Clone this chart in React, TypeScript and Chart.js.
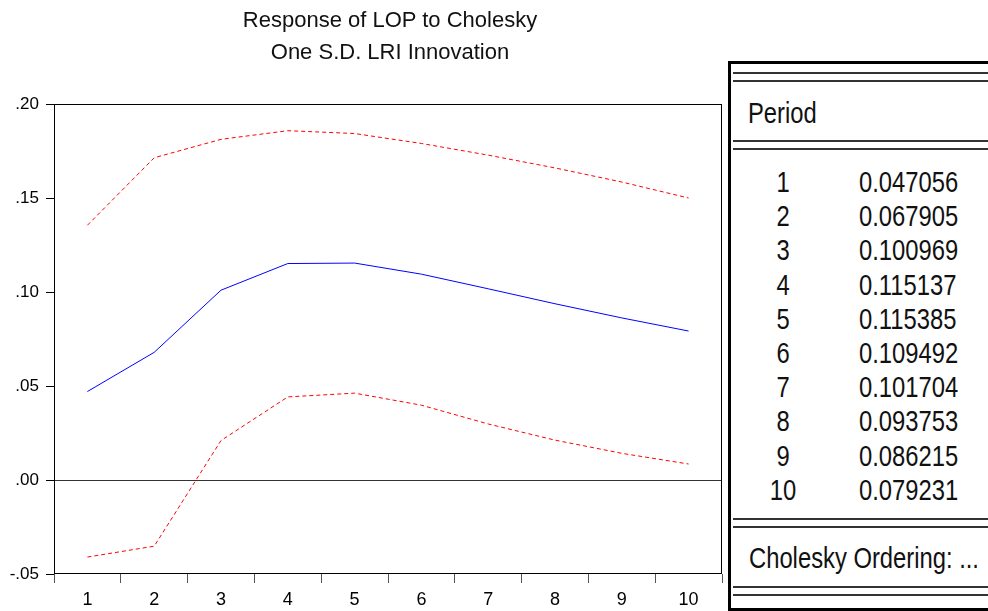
import React, { useEffect, useRef } from "react";
import { Chart, registerables } from "chart.js";

Chart.register(...registerables);

const periods = ["1", "2", "3", "4", "5", "6", "7", "8", "9", "10"];
const response = [0.047056, 0.067905, 0.100969, 0.115137, 0.115385, 0.109492, 0.101704, 0.093753, 0.086215, 0.079231];
const upperBand = [0.1355, 0.1714, 0.1812, 0.1858, 0.1843, 0.1790, 0.1728, 0.1660, 0.1585, 0.1500];
const lowerBand = [-0.0410, -0.0352, 0.0210, 0.0442, 0.0462, 0.0398, 0.0298, 0.0212, 0.0142, 0.0085];
const tableValues = ["0.047056", "0.067905", "0.100969", "0.115137", "0.115385", "0.109492", "0.101704", "0.093753", "0.086215", "0.079231"];
const titleLines = ["Response of LOP to Cholesky", "One S.D. LRI Innovation"];

const frame = {
  id: "frame",
  afterDatasetsDraw(chart: any) {
    const { ctx, chartArea: a } = chart;
    ctx.save();
    ctx.strokeStyle = "#000";
    ctx.lineWidth = 1;
    ctx.strokeRect(a.left + 0.5, a.top + 0.5, a.right - a.left - 1, a.bottom - a.top - 1);
    ctx.restore();
  },
};

const sans = "'Liberation Sans', Arial, sans-serif";

export default function App() {
  const ref = useRef<HTMLCanvasElement>(null);
  useEffect(() => {
    const chart = new Chart(ref.current!, {
      type: "line",
      data: {
        labels: periods,
        datasets: [
          { data: upperBand, borderColor: "#ff0000", borderWidth: 1, borderDash: [4, 3], pointRadius: 0, tension: 0 },
          { data: response, borderColor: "#0000ff", borderWidth: 1, pointRadius: 0, tension: 0 },
          { data: lowerBand, borderColor: "#ff0000", borderWidth: 1, borderDash: [4, 3], pointRadius: 0, tension: 0 },
        ],
      },
      options: {
        animation: false,
        responsive: false,
        layout: { padding: { top: 104, right: 2, left: 0, bottom: 0 } },
        plugins: { legend: { display: false }, tooltip: { enabled: false }, title: { display: false } },
        scales: {
          x: {
            type: "category",
            offset: true,
            border: { display: false },
            grid: { offset: true, color: "rgba(0,0,0,0)", tickColor: "#555", tickLength: 9, drawOnChartArea: false },
            ticks: { color: "#000", font: { family: sans, size: 18 }, padding: 6, maxRotation: 0 },
            afterFit: (s: any) => { s.height = 37; },
          },
          y: {
            min: -0.05,
            max: 0.2,
            border: { display: false },
            grid: {
              color: (c: any) => (c.tick && Math.abs(c.tick.value) < 1e-9 ? "#333" : "rgba(0,0,0,0)"),
              tickColor: "#000",
              tickLength: 8,
            },
            ticks: {
              stepSize: 0.05,
              color: "#000",
              padding: 7,
              font: { family: sans, size: 17 },
              callback: (v: any) => Number(v).toFixed(2).replace("0.", "."),
            },
            afterFit: (s: any) => { s.width = 54; },
          },
        },
      },
      plugins: [frame],
    });
    return () => chart.destroy();
  }, []);

  const narrowText = (text: string, left: number, top: number, key?: string) => (
    <div key={key} style={{ position: "absolute", left, top, fontFamily: sans, fontSize: 29, lineHeight: "34px", color: "#111", whiteSpace: "nowrap", transform: "scaleX(0.82)", transformOrigin: "left center" }}>{text}</div>
  );
  const dbl = (y: number) => (
    <>
      <div style={{ position: "absolute", left: 733, right: 0, top: y, height: 2, background: "#333" }} />
      <div style={{ position: "absolute", left: 733, right: 0, top: y + 8, height: 2, background: "#333" }} />
    </>
  );

  return (
    <div style={{ position: "absolute", left: 0, top: 0, width: 988, height: 611, background: "#fff", overflow: "hidden" }}>
      <canvas ref={ref} width={724} height={611} style={{ position: "absolute", left: 0, top: 0, width: 724, height: 611 }} />
      {titleLines.map((t, i) => (
        <div key={i} style={{ position: "absolute", left: 190, width: 400, top: 6 + i * 32, textAlign: "center", fontFamily: sans, fontSize: 22, lineHeight: "28px", color: "#111" }}>{t}</div>
      ))}
      <div style={{ position: "absolute", left: 728, top: 61, width: 300, height: 544, border: "3px solid #000", boxSizing: "content-box" }} />
      {dbl(72)}
      {dbl(140)}
      {dbl(518)}
      {dbl(586)}
      {narrowText("Period", 748, 96)}
      {periods.map((p, i) => (
        <React.Fragment key={p}>
          <div style={{ position: "absolute", left: 763, width: 40, textAlign: "center", top: 165 + i * 34.2, fontFamily: sans, fontSize: 29, lineHeight: "34px", color: "#111", transform: "scaleX(0.82)", transformOrigin: "center center" }}>{p}</div>
          {narrowText(tableValues[i], 859, 165 + i * 34.2)}
        </React.Fragment>
      ))}
      {narrowText("Cholesky Ordering: ...", 749, 541)}
    </div>
  );
}
